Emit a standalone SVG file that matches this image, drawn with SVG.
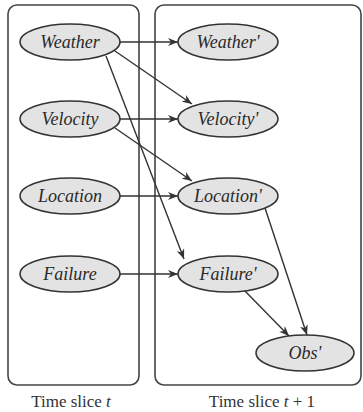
<svg xmlns="http://www.w3.org/2000/svg" width="363" height="412" viewBox="0 0 363 412">
  <defs>
    <marker id="arrow" viewBox="0 0 10 8" refX="10" refY="4" markerWidth="10" markerHeight="8" markerUnits="userSpaceOnUse" orient="auto">
      <path d="M0,0 L10,4 L0,8 L3,4 z" fill="#333"/>
    </marker>
  </defs>
  <style>
    .slice { fill: #fff; stroke: #444; stroke-width: 1.6; }
    .node ellipse { fill: #e3e3e3; stroke: #333; stroke-width: 1.5; }
    .node text { font-family: 'Liberation Serif', 'DejaVu Serif', serif; font-style: italic; font-size: 18px; fill: #2a2a2a; text-anchor: middle; }
    .edges line { stroke: #333; stroke-width: 1.4; marker-end: url(#arrow); }
    .caption { font-family: 'Liberation Serif', 'DejaVu Serif', serif; font-size: 17px; fill: #333; text-anchor: middle; }
  </style>

  <!-- time-slice frames -->
  <rect class="slice" x="8" y="5" width="131" height="380" rx="9"/>
  <rect class="slice" x="155" y="5" width="206" height="380" rx="9"/>

  <!-- dependencies between variables -->
  <g id="connectors" class="edges">
    <line x1="120" y1="42" x2="178" y2="42"/>
    <line x1="115" y1="51" x2="192" y2="104"/>
    <line x1="106" y1="56" x2="184" y2="259"/>
    <line x1="120" y1="119" x2="178" y2="119"/>
    <line x1="115" y1="128" x2="192" y2="181"/>
    <line x1="120" y1="196" x2="178" y2="196"/>
    <line x1="120" y1="274" x2="178" y2="274"/>
    <line x1="265" y1="208" x2="307" y2="335"/>
    <line x1="244" y1="290" x2="289" y2="336"/>
  </g>

  <!-- slice t -->
  <g id="weather" class="node"><ellipse cx="70" cy="42" rx="50" ry="18"/><text x="70" y="48">Weather</text></g>
  <g id="velocity" class="node"><ellipse cx="70" cy="119" rx="50" ry="18"/><text x="70" y="125">Velocity</text></g>
  <g id="location" class="node"><ellipse cx="70" cy="196" rx="50" ry="18"/><text x="70" y="202">Location</text></g>
  <g id="failure" class="node"><ellipse cx="70" cy="274" rx="50" ry="18"/><text x="70" y="280">Failure</text></g>

  <!-- slice t+1 -->
  <g id="weather-next" class="node"><ellipse cx="228" cy="42" rx="50" ry="18"/><text x="228" y="48">Weather'</text></g>
  <g id="velocity-next" class="node"><ellipse cx="228" cy="119" rx="50" ry="18"/><text x="228" y="125">Velocity'</text></g>
  <g id="location-next" class="node"><ellipse cx="228" cy="196" rx="50" ry="18"/><text x="228" y="202">Location'</text></g>
  <g id="failure-next" class="node"><ellipse cx="228" cy="274" rx="50" ry="18"/><text x="228" y="280">Failure'</text></g>
  <g id="obs-next" class="node"><ellipse cx="305" cy="353" rx="49" ry="18"/><text x="305" y="359">Obs'</text></g>

  <text class="caption" x="71" y="407">Time slice <tspan font-style="italic">t</tspan></text>
  <text class="caption" x="262" y="407">Time slice <tspan font-style="italic">t</tspan> + 1</text>
</svg>
